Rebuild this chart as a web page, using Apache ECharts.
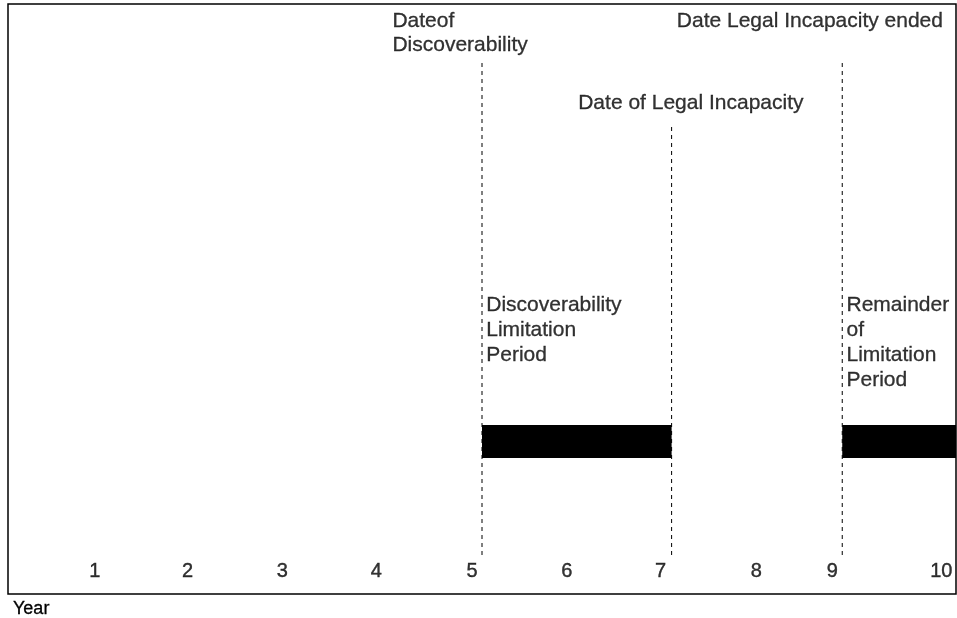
<!DOCTYPE html>
<html>
<head>
<meta charset="utf-8">
<script src="https://cdn.jsdelivr.net/npm/echarts@6/dist/echarts.min.js"></script>
<style>
html,body{margin:0;padding:0;background:#fff;}
#c{width:957px;height:618px;}
</style>
</head>
<body>
<div id="c"></div>
<script>
// ---- data ----
const yearLabels = ['1','2','3','4','5','6','7','8','9','10'];
const yearLabelX = [0.92, 1.9, 2.9, 3.89, 4.9, 5.9, 6.89, 7.9, 8.7, 9.85];
const yearLabelLevel = 22;

const markerX = [5, 7, 8.8];
const markerTop = [534, 469, 534];
const markerBottom = [39, 39, 39];

const barStart = [5, 8.8];
const barEnd = [7, 10];
const barLow = [136, 136];
const barHigh = [169, 169];

const noteText = [
  'Dateof\nDiscoverability',
  'Date Legal Incapacity ended',
  'Date of Legal Incapacity',
  'Discoverability\nLimitation\nPeriod',
  'Remainder\nof\nLimitation\nPeriod'
];
const noteX = [4.06, 7.06, 6.02, 5.05, 8.85];
const noteY = [584, 584, 502, 301, 301];
const noteLineHeight = [24, 24, 24, 25, 25];

const axisName = 'Year';

// ---- chart ----
const FONT = '"Liberation Sans", Arial, sans-serif';
const chart = echarts.init(document.getElementById('c'));

const markerData = markerX.map((x, i) => [x, markerBottom[i], markerTop[i]]);
const barData = barStart.map((s, i) => [s, barEnd[i], barLow[i], barHigh[i]]);
const yearData = yearLabels.map((t, i) => ({ value: [yearLabelX[i], yearLabelLevel], name: t }));
const noteData = noteText.map((t, i) => ({
  value: [noteX[i], noteY[i]],
  name: t,
  label: { lineHeight: noteLineHeight[i] }
}));

chart.setOption({
  animation: false,
  backgroundColor: '#fff',
  title: {
    text: axisName,
    left: 8,
    top: 595,
    textStyle: { fontFamily: FONT, fontSize: 18, fontWeight: 'normal', color: '#000',
                 textBorderColor: '#000', textBorderWidth: 0.3 }
  },
  grid: {
    left: 8, right: 1, top: 4, bottom: 24,
    show: true, borderColor: '#000', borderWidth: 1.5, backgroundColor: 'transparent'
  },
  xAxis: {
    type: 'value', min: 0, max: 10,
    axisLine: { show: false }, axisTick: { show: false },
    axisLabel: { show: false }, splitLine: { show: false }
  },
  yAxis: {
    type: 'value', min: 0, max: 590,
    axisLine: { show: false }, axisTick: { show: false },
    axisLabel: { show: false }, splitLine: { show: false }
  },
  series: [
    {
      type: 'custom',
      data: barData,
      renderItem: function (params, api) {
        const p0 = api.coord([api.value(0), api.value(3)]);
        const p1 = api.coord([api.value(1), api.value(2)]);
        return {
          type: 'rect',
          shape: { x: p0[0], y: p0[1], width: p1[0] - p0[0], height: p1[1] - p0[1] },
          style: { fill: '#000' }
        };
      },
      z: 2
    },
    {
      type: 'custom',
      data: markerData,
      renderItem: function (params, api) {
        const a = api.coord([api.value(0), api.value(1)]);
        const b = api.coord([api.value(0), api.value(2)]);
        return {
          type: 'line',
          shape: { x1: a[0], y1: a[1], x2: b[0], y2: b[1] },
          style: { stroke: '#000', lineWidth: 1, lineDash: [4, 4] }
        };
      },
      z: 3
    },
    {
      type: 'scatter',
      data: yearData,
      symbolSize: 1,
      clip: false,
      itemStyle: { color: 'transparent' },
      label: {
        show: true, position: [0, 0], align: 'center', verticalAlign: 'middle',
        formatter: p => p.name,
        fontFamily: FONT, fontSize: 20, color: '#000',
        textBorderColor: '#000', textBorderWidth: 0.4
      },
      silent: true, z: 4
    },
    {
      type: 'scatter',
      data: noteData,
      symbolSize: 1,
      clip: false,
      itemStyle: { color: 'transparent' },
      label: {
        show: true, position: [0, 0], align: 'left', verticalAlign: 'top',
        formatter: p => p.name,
        fontFamily: FONT, fontSize: 21, color: '#000',
        textBorderColor: '#000', textBorderWidth: 0.3
      },
      silent: true, z: 4
    }
  ]
});
</script>
</body>
</html>
